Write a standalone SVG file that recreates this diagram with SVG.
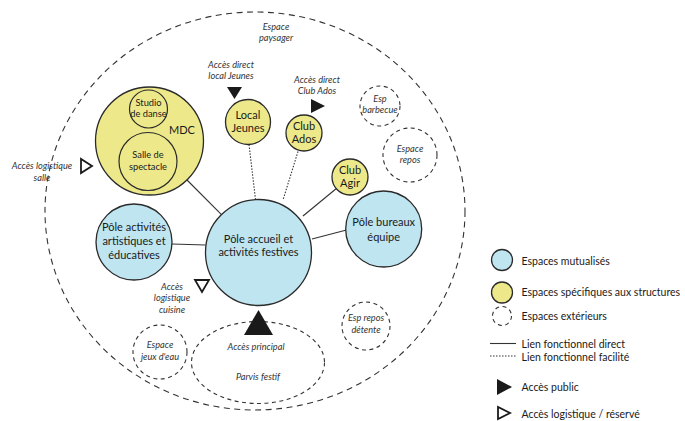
<svg xmlns="http://www.w3.org/2000/svg" width="685" height="421" viewBox="0 0 685 421">
<style>
text{font-family:Lato,"Open Sans","Liberation Sans",sans-serif;fill:#1a1a1a;text-anchor:middle}
.n{font-size:11px}
.s{font-size:9.3px}
.i{font-size:9.2px;font-style:italic;fill:#333}
.lg{font-size:10.5px;text-anchor:start}
.blue{fill:#bfe5f0;stroke:#2a2a2a;stroke-width:1.3}
.yel{fill:#ede98a;stroke:#2a2a2a;stroke-width:1.3}
.in{fill:none;stroke:#2a2a2a;stroke-width:1.2}
.ext{fill:none;stroke:#333;stroke-width:1.1;stroke-dasharray:4,3.5}
.big{stroke-dasharray:6,4.5}
.solid{stroke:#333;stroke-width:1.1;fill:none}
.dot{stroke:#333;stroke-width:1.1;stroke-dasharray:1.5,1.5;fill:none}
.pub{fill:#1a1a1a}
.log{fill:#fff;stroke:#1a1a1a;stroke-width:1.8}
</style>
<rect width="685" height="421" fill="#fff"/>
<g id="espace-paysager">
<ellipse class="ext big" cx="255" cy="211" rx="210" ry="199"/>
<text class="i" x="276" y="30">Espace</text>
<text class="i" x="276" y="41">paysager</text>
</g>
<g id="connectors">
<line class="solid" x1="187" y1="180" x2="221.5" y2="214.6"/>
<line class="solid" x1="172" y1="244" x2="205.5" y2="245"/>
<line class="solid" x1="312" y1="239" x2="346.5" y2="230"/>
<line class="solid" x1="337" y1="188" x2="303" y2="216"/>
<line class="dot" x1="249" y1="144.5" x2="255.5" y2="199.5"/>
<line class="dot" x1="298" y1="151.5" x2="283" y2="200"/>
</g>
<g id="mdc">
<circle class="yel" cx="149.5" cy="141" r="54"/>
<text class="n" x="182" y="134">MDC</text>
</g>
<g id="studio-danse">
<circle class="in" cx="148.5" cy="109" r="19"/>
<text class="s" x="148.5" y="106">Studio</text>
<text class="s" x="148.5" y="117">de danse</text>
</g>
<g id="salle-spectacle">
<circle class="in" cx="148" cy="161.5" r="29"/>
<text class="s" x="148" y="158">Salle de</text>
<text class="s" x="148" y="169.5">spectacle</text>
</g>
<g id="local-jeunes">
<circle class="yel" cx="248" cy="122" r="22.5"/>
<text class="n" x="248" y="118.5">Local</text>
<text class="n" x="248" y="131.5">Jeunes</text>
</g>
<g id="club-ados">
<circle class="yel" cx="304" cy="133" r="18"/>
<text class="n" x="304" y="130">Club</text>
<text class="n" x="304" y="143">Ados</text>
</g>
<g id="club-agir">
<circle class="yel" cx="350" cy="177" r="18"/>
<text class="n" x="350" y="173.5">Club</text>
<text class="n" x="350" y="186.5">Agir</text>
</g>
<g id="pole-activites">
<circle class="blue" cx="134" cy="242" r="38"/>
<text class="n" x="134" y="231">Pôle activités</text>
<text class="n" x="134" y="245">artistiques et</text>
<text class="n" x="134" y="259">éducatives</text>
</g>
<g id="pole-accueil">
<circle class="blue" cx="258.5" cy="252.5" r="53"/>
<text class="n" x="258.5" y="242.5">Pôle accueil et</text>
<text class="n" x="258.5" y="256">activités festives</text>
</g>
<g id="pole-bureaux">
<circle class="blue" cx="383.7" cy="229" r="38"/>
<text class="n" x="383.7" y="226">Pôle bureaux</text>
<text class="n" x="383.7" y="240.5">équipe</text>
</g>
<g id="esp-barbecue">
<circle class="ext" cx="380" cy="106" r="20"/>
<text class="i" x="380" y="102">Esp</text>
<text class="i" x="380" y="113">barbecue</text>
</g>
<g id="espace-repos">
<circle class="ext" cx="410" cy="155" r="27"/>
<text class="i" x="410" y="152">Espace</text>
<text class="i" x="410" y="163">repos</text>
</g>
<g id="esp-repos-detente">
<circle class="ext" cx="366" cy="326" r="24"/>
<text class="i" x="366" y="321">Esp repos</text>
<text class="i" x="366" y="333">détente</text>
</g>
<g id="espace-jeux-eau">
<circle class="ext" cx="160" cy="352" r="27"/>
<text class="i" x="160" y="348">Espace</text>
<text class="i" x="160" y="359.5">jeux d'eau</text>
</g>
<g id="parvis-festif">
<ellipse class="ext" cx="258" cy="362.5" rx="66.5" ry="41"/>
<text class="i" x="256" y="350">Accès principal</text>
<text class="i" x="258" y="380">Parvis festif</text>
</g>
<g id="acces-principal">
<polygon class="pub" points="244,335 273,335 258.5,310"/>
</g>
<g id="acces-local-jeunes">
<polygon class="pub" points="227,87 242,87 234.5,99"/>
<text class="i" x="231" y="68">Accès direct</text>
<text class="i" x="231" y="79">local Jeunes</text>
</g>
<g id="acces-club-ados">
<polygon class="pub" points="311,99 311,113 325,106"/>
<text class="i" x="317" y="83">Accès direct</text>
<text class="i" x="317" y="94">Club Ados</text>
</g>
<g id="acces-logistique-salle">
<polygon class="log" points="81,159 81,173 92,166"/>
<text class="i" x="42" y="169">Accès logistique</text>
<text class="i" x="42" y="181">salle</text>
</g>
<g id="acces-logistique-cuisine">
<polygon class="log" points="195,280 209,280 202,292"/>
<text class="i" x="172" y="289.5">Accès</text>
<text class="i" x="172" y="301">logistique</text>
<text class="i" x="172" y="313">cuisine</text>
</g>
<g id="legend">
<circle class="blue" cx="502" cy="260" r="10.5"/>
<text class="lg" x="521.5" y="264.5">Espaces mutualisés</text>
<circle class="yel" cx="502" cy="292.5" r="10.5"/>
<text class="lg" x="521.5" y="295.5">Espaces spécifiques aux structures</text>
<circle class="ext" cx="502" cy="316" r="9.5" stroke-dasharray="3,3.5"/>
<text class="lg" x="521.5" y="320">Espaces extérieurs</text>
<line class="solid" x1="490" y1="343.5" x2="516" y2="343.5"/>
<text class="lg" x="521.5" y="348">Lien fonctionnel direct</text>
<line class="dot" x1="490" y1="356" x2="516" y2="356"/>
<text class="lg" x="521.5" y="360.5">Lien fonctionnel facilité</text>
<polygon class="pub" points="497,379 497,395 512,387"/>
<text class="lg" x="521.5" y="390.5">Accès public</text>
<polygon class="log" points="498,407 498,419 510,413"/>
<text class="lg" x="521.5" y="417.5">Accès logistique / réservé</text>
</g>
</svg>
